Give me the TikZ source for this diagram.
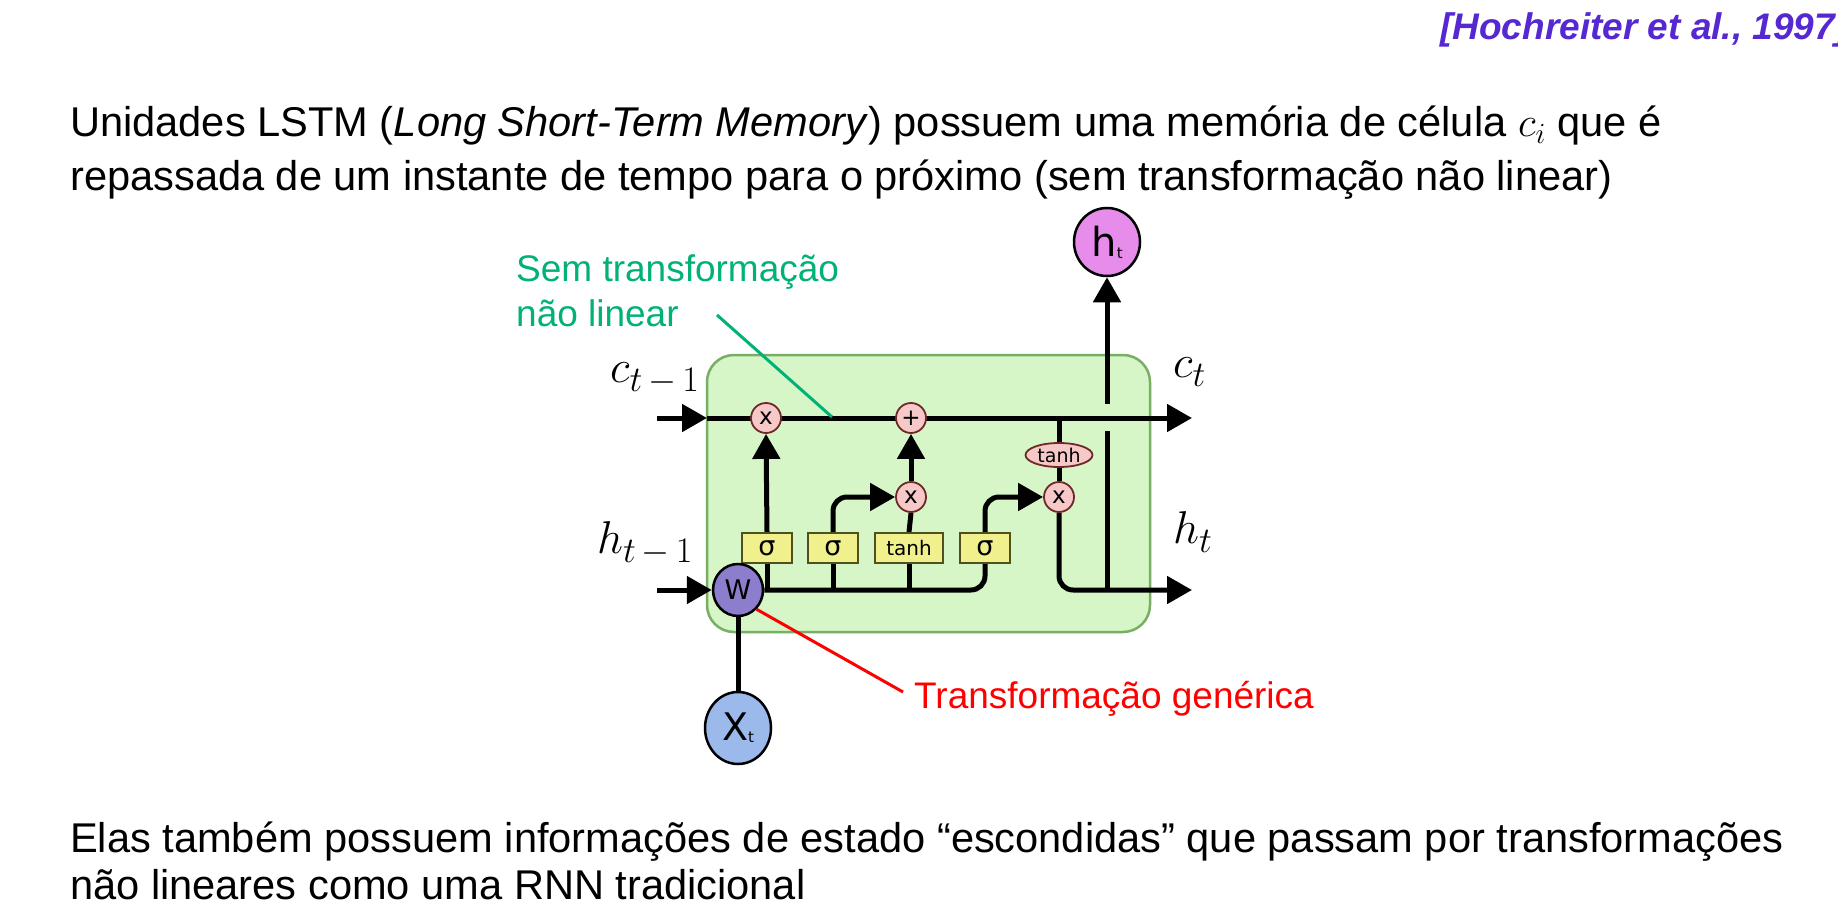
\RequirePackage{fix-cm}
\documentclass[tikz,border=0pt]{standalone}
\usepackage{fontspec}
\setmainfont{Liberation Sans}
\newfontfamily\dejavu{DejaVu Sans}
\usetikzlibrary{arrows.meta,shapes.geometric}

\pgfdeclarelayer{bg}
\pgfdeclarelayer{wires}
\pgfsetlayers{bg,wires,main}

\definecolor{cellfill}{RGB}{214,246,200}
\definecolor{celledge}{RGB}{120,175,100}
\definecolor{opfill}{RGB}{246,200,200}
\definecolor{opedge}{RGB}{110,40,40}
\definecolor{gatefill}{RGB}{240,240,140}
\definecolor{gateedge}{RGB}{80,80,30}
\definecolor{wfill}{RGB}{140,125,205}
\definecolor{xfill}{RGB}{155,185,235}
\definecolor{hfill}{RGB}{232,140,235}
\definecolor{notegreen}{RGB}{0,178,118}
\definecolor{citeblue}{RGB}{85,40,210}

% state name with a large lowered subscript
\newcommand\statevar[2]{$#1$\raisebox{-9pt}{\fontsize{36}{36}\selectfont$#2$}}

\tikzset{
  wire/.style={line width=5pt},
  arr/.style={wire, -{Triangle[length=25pt,width=27pt]}},
  op/.style={circle, draw=opedge, fill=opfill, line width=1.8pt, minimum size=30pt,
    inner sep=0pt, font=\dejavu\fontsize{23}{23}\selectfont},
  gate/.style={rectangle, draw=gateedge, fill=gatefill, line width=1.8pt,
    minimum height=30pt, minimum width=50pt, inner sep=0pt,
    font=\dejavu\fontsize{27}{27}\selectfont},
  state/.style={ellipse, draw=black, line width=2.5pt, inner sep=0pt},
  body/.style={anchor=base west, inner sep=0pt, font=\fontsize{41.6}{41.6}\selectfont},
  mlabel/.style={anchor=base west, inner sep=0pt, font=\fontsize{46}{46}\selectfont},
  note/.style={anchor=base west, align=left, inner sep=0pt, font=\fontsize{37}{45}\selectfont},
}

\begin{document}
\begin{tikzpicture}[x=1pt, y=-1pt]
\useasboundingbox (0,0) rectangle (1838,904);
\clip (0,0) rectangle (1838,904);

% header and body text
\node[anchor=base west, inner sep=0pt, text=citeblue, font=\bfseries\itshape\fontsize{37}{37}\selectfont]
  (cite) at (1440,40) {[Hochreiter et al., 1997]};
\node[body] (p1) at (70,137) {Unidades LSTM (\textit{Long Short-Term Memory}) possuem uma memória de célula $c_i$ que é};
\node[body] (p2) at (70,190) {repassada de um instante de tempo para o próximo (sem transformação não linear)};
\node[body] (q1) at (70,852) {Elas também possuem informações de estado “escondidas” que passam por transformações};
\node[body] (q2) at (70,899) {não lineares como uma RNN tradicional};

% the LSTM cell body
\begin{pgfonlayer}{bg}
\fill[white] (0,0) rectangle (1838,904);
\node[draw=celledge, fill=cellfill, rounded corners=27pt, line width=2.5pt,
  minimum width=443pt, minimum height=277pt, inner sep=0pt] (cell) at (928.5,493.5) {};
\end{pgfonlayer}

% operations and gates
\node[op] (mulf) at (766,418) {x};
\node[op] (add)  at (911,418) {+};
\node[op] (muli) at (911,497) {x};
\node[op] (mulo) at (1059,497) {x};
\node[ellipse, draw=opedge, fill=opfill, line width=1.8pt, minimum width=67pt,
  minimum height=24pt, inner sep=0pt, font=\dejavu\fontsize{19}{19}\selectfont]
  (tanhc) at (1059,455) {tanh};
\node[gate] (sf) at (767,548) {σ};
\node[gate] (si) at (833,548) {σ};
\node[gate, minimum width=68pt, font=\dejavu\fontsize{20}{20}\selectfont] (tg) at (909,548) {tanh};
\node[gate] (so) at (985,548) {σ};

\node[state, fill=wfill, minimum width=50pt, minimum height=52pt,
  font=\dejavu\fontsize{27}{27}\selectfont] (W) at (738,590) {W};
\node[state, fill=xfill, minimum width=66pt, minimum height=72pt,
  font=\dejavu\fontsize{38}{38}\selectfont] (X) at (738,728)
  {X\raisebox{-2pt}{\fontsize{15}{15}\selectfont t}};
\node[state, fill=hfill, minimum width=66pt, minimum height=68pt,
  font=\dejavu\fontsize{40}{40}\selectfont] (H) at (1107,242)
  {h\raisebox{-2pt}{\fontsize{15}{15}\selectfont t}};

% free ends of the connectors
\coordinate (cin)  at (657,418);
\coordinate (cedge) at (707,418);
\coordinate (cout) at (1192,418);
\coordinate (hin)  at (657,590);
\coordinate (hout) at (1192,590);
\coordinate (ctap) at (1059,418);
\coordinate (hjoin) at (1107,590);
\coordinate (gaplo) at (1107,431);
\coordinate (gaphi) at (1107,404);
\coordinate (greenA) at (717,315);
\coordinate (greenB) at (832,417);
\coordinate (redB) at (903,692);

\begin{pgfonlayer}{wires}
% cell state line
\draw[arr] (cin) -- (cedge);
\draw[arr] (cedge) -- (cout);
% hidden state input and the shared line to the gates
\draw[arr] (hin) -- (W.west);
\draw[wire, rounded corners=14pt] (W.east) -- (so.south |- W.east) -- (so.south);
\draw[wire] (sf.south) -- (sf.south |- W.east);
\draw[wire] (si.south) -- (si.south |- W.east);
\draw[wire] (tg.south) -- (tg.south |- W.east);
% gate outputs
\draw[arr] (sf.north) -- (mulf.south);
\draw[arr, rounded corners=14pt] (si.north) -- (si.north |- muli.west) -- (muli.west);
\draw[wire] (tg.north) -- (muli.south);
\draw[arr] (muli.north) -- (add.south);
\draw[arr, rounded corners=14pt] (so.north) -- (so.north |- mulo.west) -- (mulo.west);
% output path
\draw[wire] (ctap) -- (tanhc.north);
\draw[wire] (tanhc.south) -- (mulo.north);
\draw[arr, rounded corners=14pt] (mulo.south) -- (mulo.south |- hout) -- (hout);
\draw[wire] (hjoin) -- (gaplo);
\draw[arr] (gaphi) -- (H.south);
% input x
\draw[wire] (W.south) -- (X.north);
\end{pgfonlayer}

% annotations
\node[note, text=notegreen] (gnote) at (516,326) {Sem transformação\\não linear};
\draw[notegreen, line width=3pt] (greenA) -- (greenB);
\node[note, text=red] (rnote) at (914,708) {Transformação genérica};
\draw[red, line width=3pt] (W.south east) -- (redB);

% state labels
\node[mlabel] (lc0) at (610,382) {\statevar{c}{t\mskip3mu{-}\mskip3mu1}};
\node[mlabel] (lh0) at (597,553) {\statevar{h}{t\mskip3mu{-}\mskip3mu1}};
\node[mlabel] (lc1) at (1173,377) {\statevar{c}{t}};
\node[mlabel] (lh1) at (1173,543) {\statevar{h}{t}};
\end{tikzpicture}
\end{document}
